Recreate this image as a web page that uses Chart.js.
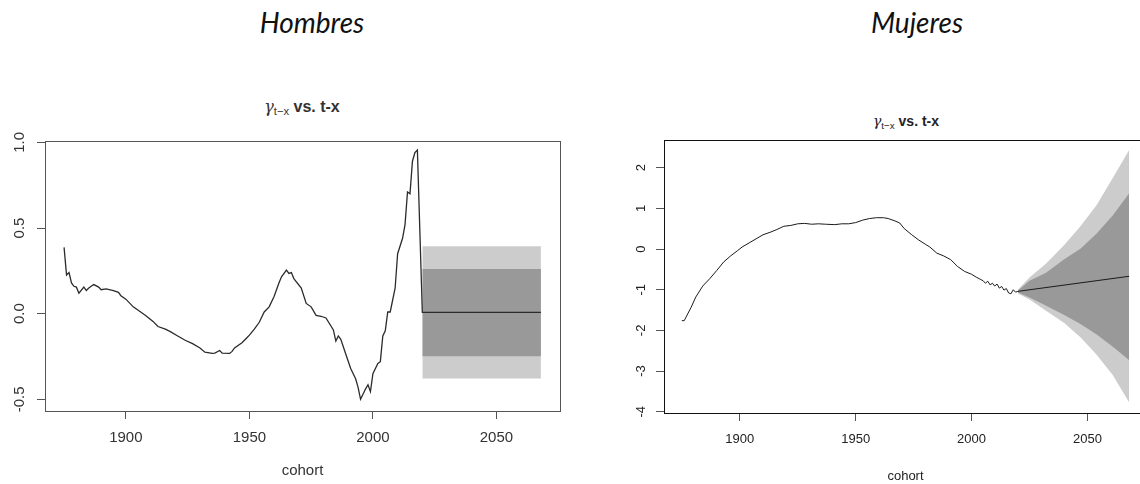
<!DOCTYPE html>
<html>
<head>
<meta charset="utf-8">
<script src="https://cdn.jsdelivr.net/npm/chart.js@4.4.0/dist/chart.umd.min.js"></script>
<style>
	html, body { margin: 0; padding: 0; width: 1140px; height: 484px; overflow: hidden; background: #fff; }
	.head { position: absolute; top: 5px; font-family: Lato, "Open Sans", sans-serif; font-style: italic; font-weight: 400; font-size: 28px; color: #111; transform: translateX(-50%); white-space: nowrap; }
	.ttl { position: absolute; font-family: "Liberation Sans", Arial, sans-serif; font-weight: bold; color: #222; transform: translate(-50%, -50%); white-space: nowrap; }
	.ttl .g { font-weight: normal; font-family: "DejaVu Serif", serif; font-style: italic; }
	.ttl sub { font-weight: normal; font-size: 70%; vertical-align: -0.3em; }
	.box { position: absolute; top: 120px; height: 364px; }
</style>
</head>
<body>
<div class="head" style="left:312px;">Hombres</div>
<div class="head" style="left:917px;">Mujeres</div>

<div class="ttl" style="left:302px; top:107px; font-size:16px; color:#333;"><span class="g">γ</span><sub>t−x</sub> vs. t-x</div>
<div class="ttl" style="left:906px; top:122px; font-size:14px;"><span class="g">γ</span><sub>t−x</sub> vs. t-x</div>

<div class="box" style="left:0px; width:575px;"><canvas id="hombres_chart"></canvas></div>
<div class="box" style="left:600px; width:560px;"><canvas id="mujeres_chart"></canvas></div>

<script>
// DATA - HOMBRES

const h_years = [1875, 1876, 1877, 1878, 1879, 1880, 1881, 1883, 1884, 1885, 1887, 1889, 1890, 1892, 1895, 1897, 1898, 1900,
	1903, 1905, 1908, 1911, 1913, 1916, 1918, 1921, 1924, 1927, 1930, 1932, 1935, 1936, 1938, 1939, 1942, 1943, 1944, 1947,
	1949, 1950, 1952, 1954, 1956, 1958, 1960, 1962, 1963, 1965, 1966, 1967, 1968, 1971, 1973, 1975, 1977, 1979, 1981, 1984,
	1985, 1986, 1987, 1989, 1991, 1993, 1994, 1995, 1997, 1998, 1999, 2000, 2002, 2003, 2004, 2005, 2006, 2007, 2009, 2010,
	2012, 2013, 2014, 2015, 2016, 2017, 2018];
const h_gamma = [0.387, 0.226, 0.24, 0.18, 0.16, 0.155, 0.12, 0.155, 0.135, 0.15, 0.17, 0.155, 0.14, 0.145, 0.135, 0.125, 0.105, 0.085,
	0.04, 0.02, -0.01, -0.045, -0.075, -0.09, -0.105, -0.13, -0.155, -0.175, -0.2, -0.225, -0.232, -0.23, -0.215, -0.23, -0.232, -0.22, -0.2, -0.17,
	-0.14, -0.125, -0.09, -0.05, 0.01, 0.04, 0.1, 0.18, 0.215, 0.255, 0.235, 0.24, 0.205, 0.15, 0.06, 0.04, -0.01, -0.015, -0.025, -0.095,
	-0.16, -0.13, -0.15, -0.235, -0.32, -0.38, -0.43, -0.5, -0.44, -0.415, -0.455, -0.35, -0.29, -0.28, -0.13, -0.1, 0.01, 0.01, 0.15, 0.35,
	0.44, 0.52, 0.71, 0.7, 0.89, 0.94, 0.955];

const h_fc_years = [2020, 2068];
const h_fc_mean = [0.008, 0.008];
const h_hi95 = [0.393, 0.393];
const h_lo95 = [-0.378, -0.378];
const h_hi80 = [0.261, 0.261];
const h_lo80 = [-0.248, -0.248];

// DATA - MUJERES

const m_years = [1875, 1876, 1879, 1881, 1884, 1887, 1890, 1893, 1896, 1899, 1901, 1904, 1907, 1910, 1913, 1916, 1919, 1922,
	1925, 1928, 1931, 1934, 1937, 1941, 1944, 1947, 1950, 1953, 1956, 1959, 1962, 1964, 1967, 1969, 1971, 1974, 1977, 1980,
	1982, 1985, 1988, 1991, 1994, 1997, 2000, 2002, 2004, 2005, 2006, 2007, 2008, 2009, 2010, 2011, 2012, 2013, 2014, 2015,
	2016, 2017, 2018, 2019];
const m_gamma = [-1.76, -1.76, -1.43, -1.18, -0.91, -0.73, -0.53, -0.32, -0.17, -0.04, 0.05, 0.15, 0.25, 0.35, 0.41, 0.48, 0.56, 0.58,
	0.62, 0.63, 0.61, 0.62, 0.61, 0.60, 0.62, 0.62, 0.65, 0.71, 0.75, 0.77, 0.77, 0.75, 0.69, 0.64, 0.50, 0.36, 0.23, 0.12,
	0.05, -0.10, -0.17, -0.26, -0.43, -0.55, -0.62, -0.69, -0.75, -0.78, -0.84, -0.79, -0.88, -0.84, -0.91, -0.86, -0.96, -0.92, -1.01, -0.97,
	-1.08, -1.10, -1.00, -1.06];

const m_fc_years = [2020, 2068];
const m_fc_mean = [-1.04, -0.67];

const m_fan_years = [2020, 2025, 2032, 2040, 2047, 2054, 2061, 2068];
const m_hi95 = [-1.00, -0.70, -0.37, 0.10, 0.56, 1.08, 1.75, 2.43];
const m_hi80 = [-1.02, -0.78, -0.59, -0.25, 0.01, 0.38, 0.83, 1.37];
const m_lo80 = [-1.07, -1.19, -1.39, -1.62, -1.84, -2.10, -2.40, -2.73];
const m_lo95 = [-1.09, -1.24, -1.51, -1.82, -2.17, -2.60, -3.10, -3.77];

const x_min = 1867.28, x_max = 2075.72;

//==================================
// HELPERS
//==================================

function pts(xs, ys) {
	return xs.map((x, i) => ({ x: x, y: ys[i] }));
}

// R style box round the plot and y labels turned on their side
const rBoxPlugin = {
	id: 'rBox',
	afterDraw(chart, args, opts) {
		const ctx = chart.ctx;
		const a = chart.chartArea;
		ctx.save();
		ctx.strokeStyle = opts.color;
		ctx.lineWidth = 1;
		ctx.strokeRect(Math.round(a.left) + 0.5, Math.round(a.top) + 0.5, Math.round(a.right - a.left), Math.round(a.bottom - a.top));

		const yScale = chart.scales.y;
		ctx.fillStyle = opts.labelColor;
		ctx.font = opts.font;
		ctx.textAlign = 'center';
		ctx.textBaseline = 'middle';
		yScale.ticks.forEach(t => {
			ctx.save();
			ctx.translate(opts.labelX, yScale.getPixelForValue(t.value));
			ctx.rotate(-Math.PI / 2);
			ctx.fillText(t.value.toFixed(opts.decimals), 0, 0);
			ctx.restore();
		});
		ctx.restore();
	}
};

function axisX(fontSize, color, pad, titlePad, height) {
	return {
		type: 'linear',
		min: x_min,
		max: x_max,
		ticks: {
			stepSize: 50,
			includeBounds: false,
			maxRotation: 0,
			padding: pad,
			color: color,
			font: { family: 'Liberation Sans', size: fontSize },
			callback: v => String(v),
		},
		grid: { drawOnChartArea: false, drawTicks: true, tickLength: 8, color: '#555' },
		border: { display: false },
		title: {
			display: true,
			text: 'cohort',
			color: color,
			font: { family: 'Liberation Sans', size: fontSize },
			padding: { top: 0, bottom: titlePad },
		},
		afterFit: s => { s.height = height; },
	};
}

function axisY(min, max, step, width) {
	return {
		min: min,
		max: max,
		ticks: { stepSize: step, includeBounds: false, color: 'rgba(0,0,0,0)' },
		grid: { drawOnChartArea: false, drawTicks: true, tickLength: 8, color: '#555' },
		border: { display: false },
		afterFit: s => { s.width = width; },
	};
}

//==================================
// MAIN
//==================================

var hombresChart, mujeresChart;

function initialize() {
	const hombres_ctx = document.getElementById('hombres_chart').getContext('2d');
	const mujeres_ctx = document.getElementById('mujeres_chart').getContext('2d');

	const band = { pointRadius: 0, borderWidth: 0, tension: 0 };

	hombresChart = new Chart(hombres_ctx, {
		type: 'line',
		data: {
			datasets: [
				Object.assign({ data: pts(h_fc_years, h_hi95), fill: 1, backgroundColor: '#cccccc', order: 3 }, band),
				Object.assign({ data: pts(h_fc_years, h_lo95), fill: false, order: 3 }, band),
				Object.assign({ data: pts(h_fc_years, h_hi80), fill: 3, backgroundColor: '#999999', order: 2 }, band),
				Object.assign({ data: pts(h_fc_years, h_lo80), fill: false, order: 2 }, band),
				{
					data: pts(h_years.concat(h_fc_years), h_gamma.concat(h_fc_mean)),
					borderColor: '#2b2b2b',
					borderWidth: 1.3,
					pointRadius: 0,
					fill: false,
					tension: 0,
					order: 1,
				},
			],
		},
		options: {
			responsive: true,
			maintainAspectRatio: false,
			animation: false,
			layout: { padding: { top: 21, right: 15, left: 0, bottom: 0 } },
			plugins: {
				legend: { display: false },
				tooltip: { enabled: false },
				rBox: { color: '#555', labelColor: '#333', font: '15px "Liberation Sans"', labelX: 20, decimals: 1 },
			},
			scales: {
				x: axisX(15, '#333', 10, 4, 73),
				y: axisY(-0.568, 1.008, 0.5, 45),
			},
		},
		plugins: [rBoxPlugin],
	});

	mujeresChart = new Chart(mujeres_ctx, {
		type: 'line',
		data: {
			datasets: [
				Object.assign({ data: pts(m_fan_years, m_hi95), fill: 1, backgroundColor: '#cccccc', order: 3 }, band),
				Object.assign({ data: pts(m_fan_years, m_lo95), fill: false, order: 3 }, band),
				Object.assign({ data: pts(m_fan_years, m_hi80), fill: 3, backgroundColor: '#999999', order: 2 }, band),
				Object.assign({ data: pts(m_fan_years, m_lo80), fill: false, order: 2 }, band),
				{
					data: pts(m_years.concat(m_fc_years), m_gamma.concat(m_fc_mean)),
					borderColor: '#1a1a1a',
					borderWidth: 1,
					pointRadius: 0,
					fill: false,
					tension: 0,
					order: 1,
				},
			],
		},
		options: {
			responsive: true,
			maintainAspectRatio: false,
			animation: false,
			layout: { padding: { top: 20, right: 13, left: 0, bottom: 0 } },
			plugins: {
				legend: { display: false },
				tooltip: { enabled: false },
				rBox: { color: '#111', labelColor: '#222', font: '13px "Liberation Sans"', labelX: 41, decimals: 0 },
			},
			scales: {
				x: axisX(13, '#222', 11, 0, 71),
				y: axisY(-4.03, 2.68, 1, 64),
			},
		},
		plugins: [rBoxPlugin],
	});
}

initialize();
</script>
</body>
</html>
